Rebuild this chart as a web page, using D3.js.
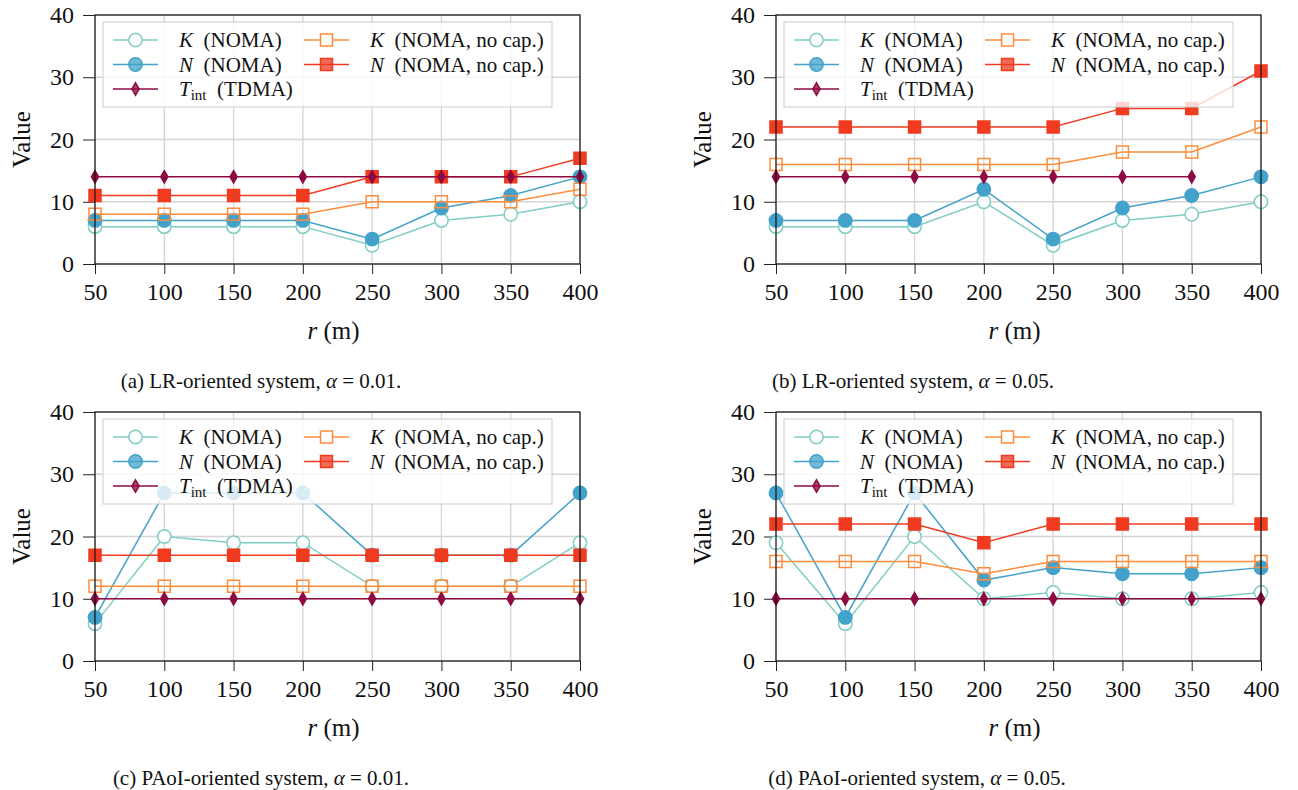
<!DOCTYPE html>
<html>
<head>
<meta charset="utf-8">
<script src="https://cdn.jsdelivr.net/npm/d3@7"></script>
<style>
  body { margin: 0; background: #fff; }
  svg { display: block; }
  svg text { font-family: "Liberation Serif", "Times New Roman", "DejaVu Serif", serif; }
</style>
</head>
<body>
<svg id="chart" width="1298" height="790"></svg>
<script>
// x values and ticks
const rValues = [50, 100, 150, 200, 250, 300, 350, 400];
const yTicks = [0, 10, 20, 30, 40];

// (a) LR-oriented, alpha = 0.01
const kNomaA  = [6, 6, 6, 6, 3, 7, 8, 10];
const nNomaA  = [7, 7, 7, 7, 4, 9, 11, 14];
const kNoCapA = [8, 8, 8, 8, 10, 10, 10, 12];
const nNoCapA = [11, 11, 11, 11, 14, 14, 14, 17];
const tIntA   = [14, 14, 14, 14, 14, 14, 14, 14];

// (b) LR-oriented, alpha = 0.05
const kNomaB  = [6, 6, 6, 10, 3, 7, 8, 10];
const nNomaB  = [7, 7, 7, 12, 4, 9, 11, 14];
const kNoCapB = [16, 16, 16, 16, 16, 18, 18, 22];
const nNoCapB = [22, 22, 22, 22, 22, 25, 25, 31];
const tIntB   = [14, 14, 14, 14, 14, 14, 14];

// (c) PAoI-oriented, alpha = 0.01
const kNomaC  = [6, 20, 19, 19, 12, 12, 12, 19];
const nNomaC  = [7, 27, 27, 27, 17, 17, 17, 27];
const kNoCapC = [12, 12, 12, 12, 12, 12, 12, 12];
const nNoCapC = [17, 17, 17, 17, 17, 17, 17, 17];
const tIntC   = [10, 10, 10, 10, 10, 10, 10, 10];

// (d) PAoI-oriented, alpha = 0.05
const kNomaD  = [19, 6, 20, 10, 11, 10, 10, 11];
const nNomaD  = [27, 7, 27, 13, 15, 14, 14, 15];
const kNoCapD = [16, 16, 16, 14, 16, 16, 16, 16];
const nNoCapD = [22, 22, 22, 19, 22, 22, 22, 22];
const tIntD   = [10, 10, 10, 10, 10, 10, 10, 10];

const captionTexts = [
  ['(a) LR-oriented system, ', '0.01.'],
  ['(b) LR-oriented system, ', '0.05.'],
  ['(c) PAoI-oriented system, ', '0.01.'],
  ['(d) PAoI-oriented system, ', '0.05.']
];

const serif = '"Liberation Serif", "Times New Roman", "DejaVu Serif", serif';

// series styles (drawing order)
const seriesStyles = {
  kNoma:  { color: '#7fcdc3', shape: 'circle',  hollow: true },
  nNoma:  { color: '#43a2ca', shape: 'circle',  hollow: false },
  kNoCap: { color: '#fd8d3c', shape: 'square',  hollow: true },
  nNoCap: { color: '#f03b20', shape: 'square',  hollow: false },
  tInt:   { color: '#8e0a43', shape: 'diamond', hollow: false }
};

const panels = [
  { left: 95,  top: 15,  capX: 261, series: { kNoma: kNomaA, nNoma: nNomaA, kNoCap: kNoCapA, nNoCap: nNoCapA, tInt: tIntA } },
  { left: 776, top: 15,  capX: 913, series: { kNoma: kNomaB, nNoma: nNomaB, kNoCap: kNoCapB, nNoCap: nNoCapB, tInt: tIntB } },
  { left: 95,  top: 412, capX: 261, series: { kNoma: kNomaC, nNoma: nNomaC, kNoCap: kNoCapC, nNoCap: nNoCapC, tInt: tIntC } },
  { left: 776, top: 412, capX: 917, series: { kNoma: kNomaD, nNoma: nNomaD, kNoCap: kNoCapD, nNoCap: nNoCapD, tInt: tIntD } }
];

const plotW = 485, plotH = 249;
const svg = d3.select('#chart');

function symbolPath(shape) {
  if (shape === 'circle') return d3.symbol(d3.symbolCircle, 140)();
  if (shape === 'square') return d3.symbol(d3.symbolSquare, 144)();
  return d3.symbol(d3.symbolDiamond, 44)();
}

function drawMarker(g, shape, style, cx, cy, legend) {
  g.append('path')
    .attr('d', symbolPath(shape))
    .attr('transform', `translate(${cx},${cy})`)
    .attr('fill', style.hollow ? (shape === 'circle' || legend ? '#fff' : 'none') : style.color)
    .attr('fill-opacity', legend && !style.hollow ? 0.75 : 1)
    .attr('stroke', style.color)
    .attr('stroke-width', 1.5);
}

panels.forEach((p, i) => {
  const g = svg.append('g');
  const x = d3.scaleLinear().domain([50, 400]).range([p.left, p.left + plotW]);
  const y = d3.scaleLinear().domain([0, 40]).range([p.top + plotH, p.top]);

  // grid
  g.append('g').selectAll('line').data(rValues).join('line')
    .attr('x1', d => x(d)).attr('x2', d => x(d))
    .attr('y1', p.top).attr('y2', p.top + plotH)
    .attr('stroke', '#d4d4d4').attr('stroke-width', 1.3);
  g.append('g').selectAll('line').data(yTicks).join('line')
    .attr('x1', p.left).attr('x2', p.left + plotW)
    .attr('y1', d => y(d)).attr('y2', d => y(d))
    .attr('stroke', '#d4d4d4').attr('stroke-width', 1.3);

  // axes
  const xAxis = g.append('g')
    .attr('transform', `translate(0,${p.top + plotH})`)
    .call(d3.axisBottom(x).tickValues(rValues).tickSize(10).tickPadding(9).tickFormat(d3.format('d')));
  const yAxis = g.append('g')
    .attr('transform', `translate(${p.left},0)`)
    .call(d3.axisLeft(y).tickValues(yTicks).tickSize(12).tickPadding(9));
  [xAxis, yAxis].forEach(a => {
    a.attr('font-family', serif).attr('font-size', 24);
    a.select('.domain').remove();
    a.selectAll('.tick line').attr('stroke', '#222').attr('stroke-width', 1);
    a.selectAll('.tick text').attr('fill', '#111');
  });

  // series
  Object.keys(seriesStyles).forEach(key => {
    const st = seriesStyles[key];
    const vals = p.series[key];
    const pts = vals.map((v, j) => [rValues[j], v]);
    g.append('path')
      .datum(pts)
      .attr('fill', 'none')
      .attr('stroke', st.color)
      .attr('stroke-width', 1.5)
      .attr('d', d3.line().x(d => x(d[0])).y(d => y(d[1])));
    pts.forEach(d => drawMarker(g, st.shape, st, x(d[0]), y(d[1]), false));
  });

  // frame
  g.append('rect')
    .attr('x', p.left).attr('y', p.top)
    .attr('width', plotW).attr('height', plotH)
    .attr('fill', 'none').attr('stroke', '#111').attr('stroke-width', 1.2);

  // legend
  const lg = g.append('g').attr('transform', `translate(${p.left + 8},${p.top + 7})`);
  lg.append('rect')
    .attr('width', 449).attr('height', 85)
    .attr('fill', '#fff').attr('fill-opacity', 0.8)
    .attr('stroke', '#cccccc').attr('stroke-width', 1);
  const legendItems = [
    { key: 'kNoma',  col: 0, row: 0, sym: 'K', rest: ' (NOMA)' },
    { key: 'nNoma',  col: 0, row: 1, sym: 'N', rest: ' (NOMA)' },
    { key: 'tInt',   col: 0, row: 2, sym: 'T', sub: 'int', rest: ' (TDMA)' },
    { key: 'kNoCap', col: 1, row: 0, sym: 'K', rest: ' (NOMA, no cap.)' },
    { key: 'nNoCap', col: 1, row: 1, sym: 'N', rest: ' (NOMA, no cap.)' }
  ];
  legendItems.forEach(it => {
    const st = seriesStyles[it.key];
    const lx = it.col === 0 ? 10 : 201;
    const ly = 18 + it.row * 24.5;
    lg.append('line')
      .attr('x1', lx).attr('x2', lx + 45).attr('y1', ly).attr('y2', ly)
      .attr('stroke', st.color).attr('stroke-width', 1.5);
    drawMarker(lg, st.shape, st, lx + 22.5, ly, true);
    const t = lg.append('text')
      .attr('x', lx + 66).attr('y', ly + 7)
      .attr('fill', '#111').attr('font-family', serif).attr('font-size', 21)
      .attr('xml:space', 'preserve');
    t.append('tspan').attr('font-style', 'italic').text(it.sym);
    if (it.sub) {
      t.append('tspan').attr('dy', 4).attr('font-size', 15).text(it.sub);
      t.append('tspan').attr('dy', -4).text(' ' + it.rest);
    } else {
      t.append('tspan').text(' ' + it.rest);
    }
  });

  // axis labels
  g.append('text')
    .attr('transform', `translate(${p.left - 74},${p.top + plotH / 2}) rotate(-90)`)
    .attr('text-anchor', 'middle')
    .attr('dy', '0.35em')
    .attr('fill', '#111').attr('font-family', serif).attr('font-size', 25)
    .text('Value');
  const xl = g.append('text')
    .attr('x', p.left + plotW / 2 - 4).attr('y', p.top + plotH + 75)
    .attr('text-anchor', 'middle')
    .attr('fill', '#111').attr('font-family', serif).attr('font-size', 25)
    .attr('xml:space', 'preserve');
  xl.append('tspan').attr('font-style', 'italic').text('r');
  xl.append('tspan').text(' (m)');

  // caption
  const cap = g.append('text')
    .attr('x', p.capX).attr('y', p.top + plotH + 124)
    .attr('text-anchor', 'middle')
    .attr('fill', '#111').attr('font-family', serif).attr('font-size', 21);
  cap.append('tspan').text(captionTexts[i][0]);
  cap.append('tspan').attr('font-style', 'italic').text('α');
  cap.append('tspan').text(' = ' + captionTexts[i][1]);
});
</script>
</body>
</html>
